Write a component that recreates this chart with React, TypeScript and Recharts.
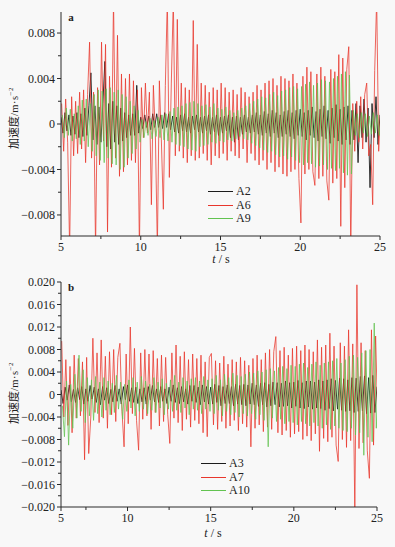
import React from 'react';
import { LineChart, Line, XAxis, YAxis, Legend } from 'recharts';

// sample grid (s); each channel is sampled with its own small time offset
const STEP = 0.125;
const TOP_START = 5;
const BOTTOM_START = 6;

// panel a, acceleration in 1e-3 m/s^2, one row per second
const A2 = [
  0.6, -0.8, 1.0, -0.6, 0.8, -1.0, 0.7, -0.9,
  1.0, -1.2, 0.9, -1.1, 1.4, -1.0, 1.6, 4.5,
  -1.4, 1.6, -1.8, 1.5, -1.6, 1.8, 5.5, -2.0,
  1.8, -2.2, 2.0, -1.6, 1.6, -1.8, 1.4, -1.5,
  1.0, -1.2, 0.8, -1.0, 0.9, -1.0, 3.4, -0.8,
  0.6, -0.4, 0.8, -0.3, 0.7, -0.5, 0.9, -0.3,
  0.9, -0.3, 0.8, -0.4, 1.0, -0.3, 0.9, -0.5,
  0.7, -0.7, 0.6, -0.8, 0.8, -0.6, 0.9, -0.7,
  0.6, -0.8, 0.7, -0.5, 0.8, -0.7, 0.6, -0.8,
  0.7, -0.6, 0.8, -0.9, 0.6, -0.7, 0.8, -1.0,
  0.6, -0.8, 0.7, -0.6, 0.8, -1.2, 0.6, -1.6,
  0.7, -1.4, 0.6, -0.9, 0.8, -0.7, 0.6, -0.8,
  0.8, -0.7, 1.0, -0.9, 0.8, -1.0, 1.1, -0.8,
  0.9, -1.1, 1.2, -0.8, 1.0, -1.2, 0.8, -1.1,
  1.1, -0.9, 1.2, -1.1, 1.0, -1.3, 1.2, -1.0,
  1.3, -1.1, 1.0, -1.4, 1.2, -1.0, 1.5, -1.2,
  1.1, -1.5, 1.3, -1.1, 1.6, -1.3, 1.2, -1.7,
  1.4, -1.2, 1.7, -1.5, 1.3, -1.8, 1.5, -1.4,
  1.6, -1.8, 1.2, -1.4, 1.8, -3.4, 1.6, -1.2,
  2.2, -1.6, 1.4, -5.6, 1.8, -1.2, 2.4, -1.8,
  0.8,
];

const A6 = [
  1.8, -2.4, 2.2, -1.6, -11, 2.4, -2.8, 2.0,
  -2.6, 2.8, -2.2, 3.0, -3.4, 2.6, 7.2, -3.0,
  2.8, -11, 3.2, -3.6, 7.2, -1.5, 7.0, -9.5,
  4.2, -3.8, 11, -3.0, 7.8, -4.6, 4.4, -4.2,
  4.0, -3.6, 4.4, -3.2, 3.8, -3.4, 3.0, -11,
  3.2, -1.2, 3.6, -0.8, 2.8, -7.1, 3.4, -1.0,
  -11, 3.8, -1.4, -7.5, 3.4, 11, -4.7, 3.6,
  11, -2.8, 9.2, -2.4, 3.6, -3.0, 3.2, -3.4,
  3.0, -2.8, 9.1, -3.2, 7.0, -3.0, 3.6, -2.6,
  3.4, -3.2, 2.8, -3.6, 3.2, -2.8, 3.0, -3.0,
  3.6, -2.6, 3.2, -3.2, 2.8, -2.4, 3.0, -2.8,
  2.6, -3.0, 3.2, -2.2, 2.8, -3.4, 2.4, -2.6,
  2.8, -3.2, 3.4, -3.6, 3.0, -3.2, 3.6, -4.0,
  3.8, -3.4, 4.0, -4.2, 3.4, -3.8, 4.2, -4.4,
  4.0, -4.6, 3.8, -4.2, 4.4, -4.0, 3.6, -4.8,
  -8.7, 4.2, -4.4, 5.0, -4.0, 4.6, -4.2, -5.4,
  4.4, -4.8, 5.0, -4.6, 4.2, -5.0, -6.7, 4.8,
  -5.2, 4.6, -4.8, 6.1, -9.0, 5.8, -5.6, 4.8,
  6.8, -11, 1.8, -2.4, 2.0, -1.6, 2.4, -2.2,
  2.6, 3.6, -2.8, -1.8, -7.1, 4.7, 11, -2.4,
  1.4,
];

const A9 = [
  0.8, -1.2, 1.4, -1.0, 1.3, -1.5, 0.9, -1.3,
  1.6, -1.8, 2.1, -1.5, 2.2, -2.0, 1.8, -2.4,
  2.6, -2.8, 3.0, -3.2, 2.9, -3.4, 3.1, -3.0,
  3.2, -3.5, 2.8, -3.6, 3.0, -4.0, 2.6, -3.8,
  2.4, -3.0, 2.0, -2.6, 1.6, -2.2, 1.2, -1.6,
  0.4, -1.2, 0.2, -1.0, 0.5, -1.3, 0.3, -1.1,
  0.6, -1.2, 0.8, -1.4, 0.9, -1.5, 1.1, -1.6,
  1.4, -1.8, 1.5, -1.9, 1.6, -2.0, 1.8, -2.2,
  1.9, -2.3, 2.0, -2.4, 1.8, -2.0, 1.6, -1.9,
  1.7, -1.8, 1.5, -1.6, 1.8, -1.7, 1.4, -1.5,
  1.3, -1.6, 1.5, -1.4, 1.2, -1.5, 1.0, -1.3,
  1.2, -1.1, 1.4, -1.3, 1.6, -1.4, 1.8, -1.7,
  2.0, -1.9, 2.2, -2.1, 2.4, -2.3, 2.3, -2.5,
  2.6, -2.4, 2.8, -2.7, 2.5, -2.9, 2.9, -2.8,
  3.0, -3.1, 3.2, -2.9, 3.3, -3.2, 3.1, -3.4,
  3.3, -3.6, 3.5, -3.4, 3.7, -3.5, 3.4, -3.8,
  3.6, -3.7, 3.9, -3.6, 3.8, -4.0, 3.7, -3.9,
  4.0, -4.1, 4.2, -3.9, 4.4, -4.3, 4.6, -4.5,
  4.3, -4.4, 1.2, -1.0, 0.9, -1.2, 1.0, -0.8,
  0.9, -1.1, 0.7, -0.9, 1.0, -0.8, 0.8, -1.0,
  0.6,
];

// panel b, starts at 6 s
const A3 = [
  0.8, -1.6, 1.3, -1.0, 1.7, -1.3, 0.9, -1.4,
  1.2, -0.9, 1.4, -1.7, 1.0, -1.2, 1.6, -0.8,
  1.3, -1.4, 1.0, -1.8, 1.4, -1.0, 1.2, -1.6,
  0.9, -1.3, 1.6, -1.2, 1.0, -1.7, 1.4, -0.9,
  1.7, -1.2, 1.2, -1.4, 1.3, -1.6, 1.0, -1.3,
  1.2, -1.7, 1.4, -1.0, 1.6, -1.3, 1.0, -1.4,
  1.4, -1.2, 1.0, -1.6, 1.3, -1.2, 1.7, -1.4,
  1.2, -1.6, 1.4, -1.3, 1.0, -1.7, 1.6, -1.2,
  1.6, -1.4, 1.3, -1.8, 1.7, -1.3, 1.4, -1.7,
  1.3, -1.7, 1.8, -1.4, 1.6, -2.0, 1.4, -1.6,
  1.7, -1.6, 1.4, -2.0, 1.8, -1.7, 1.6, -1.8,
  1.8, -2.0, 1.7, -1.7, 2.0, -1.8, 1.7, -2.1,
  2.0, -1.8, 2.1, -2.2, 1.8, -2.0, 2.2, -1.8,
  2.1, -2.2, 2.0, -2.1, 2.4, -2.0, 2.1, -2.4,
  2.2, -2.1, 2.5, -2.4, 2.1, -2.5, 2.4, -2.2,
  2.4, -2.6, 2.2, -2.4, 2.6, -2.5, 2.4, -2.8,
  2.6, -2.5, 2.8, -2.9, 2.5, -2.6, 2.9, -2.8,
  2.8, -3.0, 2.6, -2.9, 3.0, -3.2, 2.9, -3.0,
  3.2, -2.9, 3.3, -3.4, 3.0, -3.3, 3.4, -3.2,
  1.4,
];

const A7 = [
  9.5, -4.0, 6.2, -5.5, 5.0, -6.8, 7.0, -4.2,
  6.4, -3.8, 5.8, -11.6, 6.6, -10.5, -4.0, 10.0,
  -3.2, 7.4, -5.0, 9.7, -4.2, 6.8, -6.0, 7.6,
  -3.6, 8.0, -4.8, 6.6, 9.1, -3.0, -9.3, 7.2,
  -5.2, 12.0, -3.4, 8.2, -4.6, -9.9, 7.4, -4.4,
  8.0, -3.8, 7.2, -6.2, 7.8, -3.2, 6.4, -5.6,
  7.0, -4.8, 6.6, -3.6, -8.7, 7.4, -4.2, 8.8,
  -5.0, 6.8, -6.4, 7.6, -4.4, 6.2, -5.8, 7.2,
  -4.6, 6.4, -5.2, 7.0, -6.8, 5.8, -7.5, 6.6,
  7.3, -5.4, 6.0, -6.2, 5.6, -4.8, 6.8, -6.0,
  5.4, -5.6, 6.2, -4.6, 5.8, -6.4, 6.6, -5.2,
  6.0, -5.8, 5.2, -9.3, 6.4, -6.0, 7.0, -5.4,
  6.2, -6.6, 7.4, -5.8, 8.0, -6.2, 7.6, 10.3,
  -6.8, 7.8, -7.2, 8.4, -6.4, 7.0, -7.6, 8.2,
  -7.0, 8.6, -6.6, 7.8, -8.0, 8.8, -7.4, 8.0,
  -8.2, 7.6, -7.0, 9.7, -10.1, 8.4, -7.8, 8.8,
  -8.4, 10.9, -7.6, 8.6, -9.0, -11.9, 9.2, -8.0,
  8.6, -9.4, 11.5, -8.2, 9.0, -21, 19.5, -9.6,
  9.2, -8.6, 7.8, -10.0, -14.9, 11.5, -9.0, 10.4,
  -4.0,
];

const A10 = [
  -2.0, -7.5, 2.4, -9.0, 1.8, -6.0, 3.6, -4.2,
  7.0, -3.0, 4.4, -5.0, 3.0, -3.8, 2.6, -4.6,
  3.2, -3.4, 2.2, -4.0, 3.0, -2.8, 2.4, -3.6,
  2.0, -3.2, 3.4, -2.6, 2.2, -4.4, 1.8, -3.0,
  2.6, -2.4, 3.0, -3.8, 2.2, -3.0, 3.2, -2.6,
  2.4, -3.4, 1.8, -2.8, 3.0, -3.2, 2.2, -2.4,
  2.8, -3.6, 2.0, -2.6, 2.6, -3.0, 3.4, -2.8,
  2.2, -3.2, 3.0, -2.4, 2.4, -3.6, 2.8, -2.6,
  3.0, -2.8, 2.4, -3.4, 3.2, -2.6, 2.6, -3.0,
  2.8, -3.4, 3.4, -2.8, 2.6, -3.8, 3.6, -3.0,
  3.0, -3.6, 3.8, -3.2, 3.4, -4.0, 3.2, -3.4,
  3.6, -3.8, 4.0, -3.4, 3.8, -4.4, 4.2, -3.6,
  4.0, -4.6, 4.4, -9.3, 4.6, -4.2, 4.2, -4.8,
  4.8, -4.4, 5.0, -5.2, 4.6, -4.8, 5.2, -5.0,
  5.0, -5.4, 5.4, -4.8, 5.6, -5.2, 4.8, -5.6,
  5.4, -5.0, 5.8, -5.6, 5.2, -6.0, 5.6, -5.4,
  5.8, -6.2, 6.0, -5.6, 6.4, -6.0, 5.6, -6.4,
  6.2, -6.6, 6.8, -6.0, 7.0, -7.2, 6.6, -6.8,
  7.4, -10.8, 7.8, -7.6, 8.0, -8.4, 12.7, -6.0,
  4.0,
];

const TOP_SERIES = [
  { key: 'A2', color: '#1c1c1c', values: A2, offset: 0 },
  { key: 'A6', color: '#e8362c', values: A6, offset: 0.042 },
  { key: 'A9', color: '#62c350', values: A9, offset: 0.083 },
];
const BOTTOM_SERIES = [
  { key: 'A3', color: '#1c1c1c', values: A3, offset: 0 },
  { key: 'A7', color: '#e8362c', values: A7, offset: 0.042 },
  { key: 'A10', color: '#62c350', values: A10, offset: 0.083 },
];

const TOP_X_TICKS = [5, 7.5, 10, 12.5, 15, 17.5, 20, 22.5, 25];
const BOTTOM_X_TICKS = [6, 7.5, 10, 12.5, 15, 17.5, 20, 22.5, 25];
const TOP_Y_TICKS = [-0.008, -0.006, -0.004, -0.002, 0, 0.002, 0.004, 0.006, 0.008];
const BOTTOM_Y_TICKS = [
  -0.02, -0.018, -0.016, -0.014, -0.012, -0.01, -0.008, -0.006, -0.004, -0.002, 0,
  0.002, 0.004, 0.006, 0.008, 0.01, 0.012, 0.014, 0.016, 0.018, 0.02,
];

function buildRows(start: number, s: { values: number[]; offset: number }) {
  return s.values.map((v, i) => ({ t: start + s.offset + i * STEP, a: v * 0.001 }));
}

const FONT = '"Liberation Serif", "DejaVu Serif", serif';
const AXIS = '#2a2a2a';

const fmtY = (v: number) => {
  if (Math.abs(v) < 1e-9) return '0';
  return (v < 0 ? '\u2212' : '') + Math.abs(v).toFixed(3);
};

function YTick(props: any) {
  const { x, y, payload } = props;
  const v = payload.value as number;
  const major = Math.round(v * 1000) % 4 === 0;
  const len = major ? 4 : 3;
  return (
    <g>
      <line x1={x + 6 - len} x2={x + 6} y1={y} y2={y} stroke={AXIS} strokeWidth={1} />
      {major && (
        <text x={x} y={y} dy="0.35em" textAnchor="end" fontSize={12} fontFamily={FONT} fill="#222">
          {fmtY(v)}
        </text>
      )}
    </g>
  );
}

function makeXTick(firstLabel: number) {
  return function XTick(props: any) {
    const { x, y, payload } = props;
    const v = payload.value as number;
    const major = v === firstLabel || v % 5 === 0;
    const len = major ? 4 : 3;
    const label = v === firstLabel ? '5' : String(v);
    return (
      <g>
        <line x1={x} x2={x} y1={y - 6} y2={y - 6 + len} stroke={AXIS} strokeWidth={1} />
        {major && (
          <text x={x} y={y} dy="0.71em" textAnchor="middle" fontSize={12} fontFamily={FONT} fill="#222">
            {label}
          </text>
        )}
      </g>
    );
  };
}

function LegendBox({ series }: { series: { key: string; color: string }[] }) {
  return (
    <div style={{ fontFamily: FONT, fontSize: 12, color: '#222' }}>
      {series.map((s) => (
        <div key={s.key} style={{ display: 'flex', alignItems: 'center', height: 13.5 }}>
          <div style={{ width: 25, height: 1, background: s.color, marginRight: 3 }} />
          <span>{s.key}</span>
        </div>
      ))}
    </div>
  );
}

function YTitle({ left, top }: { left: number; top: number }) {
  return (
    <div
      style={{
        position: 'absolute', left, top, transform: 'translate(-50%, -50%) rotate(-90deg)',
        whiteSpace: 'nowrap', fontSize: 11, color: '#222', lineHeight: 1,
      }}
    >
      <span style={{ fontFamily: '"Noto Sans CJK SC", sans-serif' }}>加速度</span>
      <span style={{ fontFamily: FONT, fontSize: 10.5, letterSpacing: 0.5 }}>
        /m·s<sup style={{ fontSize: 7 }}>−2</sup>
      </span>
    </div>
  );
}

function XTitle({ left, top }: { left: number; top: number }) {
  return (
    <div
      style={{
        position: 'absolute', left, top, transform: 'translate(-50%, -50%)',
        fontFamily: FONT, fontSize: 12, color: '#222', whiteSpace: 'nowrap', lineHeight: 1,
      }}
    >
      <i>t</i> / s
    </div>
  );
}

function PanelTag({ left, top, text }: { left: number; top: number; text: string }) {
  return (
    <div
      style={{
        position: 'absolute', left, top, transform: 'translate(-50%, -50%)',
        fontFamily: FONT, fontSize: 11, fontWeight: 700, color: '#222', lineHeight: 1,
      }}
    >
      {text}
    </div>
  );
}

type Series = { key: string; color: string; values: number[]; offset: number };

function Panel(props: {
  series: Series[]; start: number; xDomain: [number, number]; xTicks: number[];
  yDomain: [number, number]; yTicks: number[]; height: number; right: number;
  xAxisHeight: number; legendPos: { left: number; top: number };
}) {
  const { series, start, xDomain, xTicks, yDomain, yTicks, height, right, xAxisHeight, legendPos } = props;
  return (
    <LineChart width={395} height={height} margin={{ top: 12, right, bottom: 0, left: 0 }}>
      <XAxis
        dataKey="t" type="number" domain={xDomain} ticks={xTicks} interval={0} allowDataOverflow
        height={xAxisHeight} tickSize={4} tickMargin={2} tickLine={false} stroke={AXIS} tick={makeXTick(xTicks[0])}
      />
      <YAxis
        type="number" domain={yDomain} ticks={yTicks} interval={0} allowDataOverflow
        width={61} tickSize={4} tickMargin={2} tickLine={false} stroke={AXIS} tick={<YTick />}
      />
      <Legend
        layout="vertical" align="center" verticalAlign="middle"
        wrapperStyle={{ left: legendPos.left, top: legendPos.top, width: 60 }}
        content={() => <LegendBox series={series} />}
      />
      {series.map((s, i) => (
        <Line
          key={s.key} data={buildRows(start, s)} dataKey="a" name={s.key} type="linear"
          stroke={s.color} strokeWidth={0.9} strokeOpacity={i === 0 ? 1 : 0.85}
          dot={false} isAnimationActive={false}
        />
      ))}
    </LineChart>
  );
}

export default function App() {
  return (
    <div style={{ position: 'absolute', left: 0, top: 0, width: 395, height: 547, background: '#f8f8f8', overflow: 'hidden' }}>
      {/* panel a */}
      <div style={{ position: 'absolute', left: 0, top: 0 }}>
        <Panel
          series={TOP_SERIES} start={TOP_START} xDomain={[5, 25]} xTicks={TOP_X_TICKS}
          yDomain={[-0.00985, 0.00985]} yTicks={TOP_Y_TICKS} height={270} right={15}
          xAxisHeight={34} legendPos={{ left: 208, top: 185 }}
        />
      </div>

      {/* panel b */}
      <div style={{ position: 'absolute', left: 0, top: 270 }}>
        <Panel
          series={BOTTOM_SERIES} start={BOTTOM_START} xDomain={[6, 25]} xTicks={BOTTOM_X_TICKS}
          yDomain={[-0.02, 0.02]} yTicks={BOTTOM_Y_TICKS} height={277} right={18}
          xAxisHeight={40} legendPos={{ left: 201, top: 187 }}
        />
      </div>

      <YTitle left={14} top={118} />
      <YTitle left={14} top={393} />
      <XTitle left={221} top={259} />
      <XTitle left={213} top={533} />
      <PanelTag left={71} top={17} text="a" />
      <PanelTag left={71} top={287} text="b" />
    </div>
  );
}
